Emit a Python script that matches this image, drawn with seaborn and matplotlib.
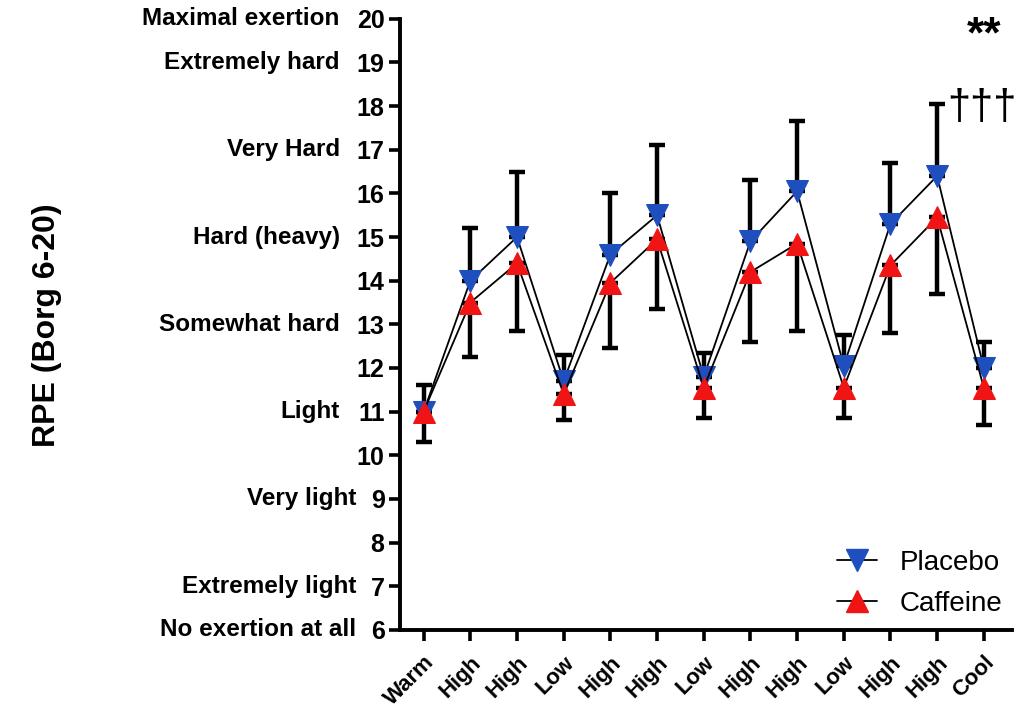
import numpy as np
import pandas as pd
import matplotlib
matplotlib.use("Agg")
import matplotlib.pyplot as plt
from matplotlib.lines import Line2D
import seaborn as sns

# Exercise stages (x categories)
stages = ["Warm", "High", "High", "Low", "High", "High", "Low",
          "High", "High", "Low", "High", "High", "Cool"]

# Mean RPE and SD for each condition
placebo_mean = [11.0, 14.0, 15.0, 11.7, 14.6, 15.5, 11.8, 14.9, 16.05, 12.05, 15.3, 16.4, 12.0]
placebo_sd = [0.6, 1.2, 1.5, 0.6, 1.4, 1.6, 0.55, 1.4, 1.6, 0.7, 1.4, 1.65, 0.6]
caffeine_mean = [11.0, 13.5, 14.4, 11.4, 13.95, 14.95, 11.55, 14.2, 14.85, 11.55, 14.35, 15.45, 11.55]
caffeine_sd = [0.7, 1.25, 1.55, 0.6, 1.5, 1.6, 0.7, 1.6, 2.0, 0.7, 1.55, 1.75, 0.85]

# Borg scale ticks and descriptors
borg_ticks = list(range(6, 21))
borg_words = {20: "Maximal exertion", 19: "Extremely hard", 17: "Very Hard",
              15: "Hard (heavy)", 13: "Somewhat hard", 11: "Light",
              9: "Very light", 7: "Extremely light", 6: "No exertion at all"}

sns.set_theme(style="ticks")
plt.rcParams["font.family"] = ["Liberation Sans", "DejaVu Sans"]
plt.rcParams.update({"text.color": "black", "axes.labelcolor": "black",
                     "xtick.color": "black", "ytick.color": "black"})

BLUE = "#1f4fbf"
RED = "#f01414"

fig = plt.figure(figsize=(10.2, 7.24), dpi=100)
ax = fig.add_axes([0.392, 0.130, 0.600, 0.844])

x = np.arange(len(stages))
df = pd.DataFrame({"x": x, "placebo": placebo_mean, "caffeine": caffeine_mean})

# One-sided error bars: placebo up, caffeine down
zeros = np.zeros(len(x))
ax.errorbar(x, placebo_mean, yerr=[zeros, placebo_sd], fmt="none",
            ecolor="black", elinewidth=3.2, capsize=6, capthick=3.2, zorder=2)
ax.errorbar(x, caffeine_mean, yerr=[caffeine_sd, zeros], fmt="none",
            ecolor="black", elinewidth=3.2, capsize=6, capthick=3.2, zorder=2)

sns.lineplot(data=df, x="x", y="placebo", ax=ax, color="black", linewidth=1.3,
             marker="v", markersize=15.5, markerfacecolor=BLUE, markeredgecolor=BLUE,
             zorder=3)
sns.lineplot(data=df, x="x", y="caffeine", ax=ax, color="black", linewidth=1.3,
             marker="^", markersize=15.5, markerfacecolor=RED, markeredgecolor=RED,
             zorder=4)

ax.set_xlim(-0.51, 12.6)
ax.set_ylim(6, 20)
ax.set_xticks(x)
ax.set_xticklabels(stages, rotation=45, ha="right", rotation_mode="anchor",
                   fontsize=16, fontweight="bold")
ax.set_yticks(borg_ticks)
ax.set_yticklabels([str(t) for t in borg_ticks], fontsize=18, fontweight="bold")
ax.set_xlabel("")
ax.set_ylabel("")

for side in ["top", "right"]:
    ax.spines[side].set_visible(False)
for side in ["left", "bottom"]:
    ax.spines[side].set_linewidth(2.8)
    ax.spines[side].set_color("black")
ax.tick_params(axis="both", length=8, width=2.6, color="black", direction="out")
ax.tick_params(axis="y", pad=3)
ax.tick_params(axis="x", pad=8)

# Verbal descriptors of the Borg scale, placed just left of each number
for val, word in borg_words.items():
    offset = -0.098 if val >= 10 else -0.071
    ax.text(offset, val, word, transform=ax.get_yaxis_transform(),
            ha="right", va="center", fontsize=17.5, fontweight="bold")

fig.text(0.046, 0.551, "RPE (Borg 6-20)", rotation=90, ha="center", va="center",
         fontsize=23, fontweight="bold")

# Significance markers
ax.text(12.0, 19.6, "**", ha="center", va="center", fontsize=32,
        fontweight="bold", clip_on=False)
ax.text(11.97, 17.95, "\u2020\u2020\u2020", ha="center", va="center", fontsize=30,
        clip_on=False)

handles = [
    Line2D([], [], color="black", linewidth=1.3, marker="v", markersize=15.5,
           markerfacecolor=BLUE, markeredgecolor=BLUE),
    Line2D([], [], color="black", linewidth=1.3, marker="^", markersize=15.5,
           markerfacecolor=RED, markeredgecolor=RED),
]
ax.legend(handles, ["Placebo", "Caffeine"], loc="lower right",
          bbox_to_anchor=(1.025, -0.02), frameon=False, fontsize=20,
          handlelength=1.45, handletextpad=0.8, labelspacing=0.55)

fig.savefig("out.png", dpi=100)
